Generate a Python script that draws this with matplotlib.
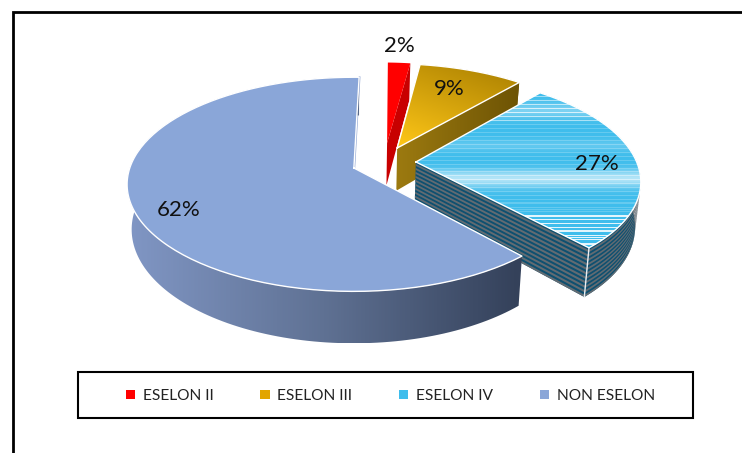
import numpy as np
import matplotlib
matplotlib.use('Agg')
import matplotlib.pyplot as plt
from matplotlib.colors import LinearSegmentedColormap, to_rgb
from matplotlib.patches import Patch, Polygon, Rectangle

categories = ['ESELON II', 'ESELON III', 'ESELON IV', 'NON ESELON']
shares = [2, 9, 27, 62]
label_x = [399, 449, 597, 179]
label_y = [46, 89, 164, 210]

# pulled-out slices: offset of the apex on the pie plane, and radius of each slice
offset_u = [0.148, 0.193, 0.273, -0.005]
offset_v = [0.247, 0.196, 0.058, 0.0]
radius = [0.94, 0.975, 0.99, 0.996]
legend_colors = ['#ff0000', '#e2a500', '#3fbdec', '#8aa6d8']

# perspective of the pie on the canvas (pixels)
CX, CY = 355, 168
RX, RY = 225, 105
PERSP = 0.153
DEPTH = 44
START = 1.5

plt.rcParams['font.family'] = ['Lato', 'DejaVu Sans']

fig = plt.figure(figsize=(7.42, 4.53), dpi=100)
ax = fig.add_axes([0, 0, 1, 1])
ax.set_xlim(0, 742)
ax.set_ylim(453, 0)
ax.set_autoscale_on(False)
ax.axis('off')


def project(u, v, h=0.0):
    # h is 0 on the top face and 1 on the bottom face
    w = 1 + PERSP * v
    s = 1 - 0.02 * h
    return CX + s * RX * u / w, CY - RY * v / w + h * DEPTH / w


def poly(x, y, z, **kw):
    p = Polygon(np.column_stack([x, y]), closed=True, zorder=z, **kw)
    ax.add_patch(p)
    return p


def ramp(x, y, z, colors, direction=(1, 0)):
    # gradient fill clipped to the polygon
    clip = poly(x, y, z, facecolor='none', edgecolor='none')
    x0, x1, y0, y1 = min(x), max(x), min(y), max(y)
    xx, yy = np.meshgrid(np.linspace(0, 1, 64), np.linspace(0, 1, 64))
    t = xx * direction[0] + yy * direction[1]
    t = (t - t.min()) / (t.max() - t.min())
    cmap = LinearSegmentedColormap.from_list('fill', colors)
    im = ax.imshow(t, cmap=cmap, extent=(x0, x1, y1, y0), origin='upper',
                   aspect='auto', zorder=z, interpolation='bilinear')
    im.set_clip_path(clip)


def side_face(u, v, h0=0.0, h1=1.0):
    x0, y0 = project(u, v, h0)
    x1, y1 = project(u, v, h1)
    return np.r_[x0, x1[::-1]], np.r_[y0, y1[::-1]]


def striped_side(u, v, z, n=11):
    # teal wall with grey bands running along it
    x, y = side_face(u, v)
    poly(x, y, z, facecolor='#0e5070', edgecolor='none')
    for i in range(n):
        x, y = side_face(u, v, (i + 0.5) / n, (i + 1) / n)
        poly(x, y, z, facecolor='#626b72', edgecolor='none')


def blue_texture(y0, y1):
    rows = np.arange(int(y0), int(y1) + 1)
    base = np.array(to_rgb('#3fbdec'))
    pale = (0.6 * np.exp(-((rows - 179) / 9.0) ** 2)
            + 0.32 * np.exp(-((rows - 110) / 8.0) ** 2)
            + 0.18 * np.exp(-((rows - 145) / 6.0) ** 2))
    fine = np.where(rows < 122, 0.5, np.where(rows > 212, 0.85, 0.2))
    fine = fine * ((rows % 4 == 0) | ((rows % 7 == 0) & (rows > 190)))
    mix = np.clip(pale + fine, 0, 1)[:, None]
    return (base * (1 - mix) + mix)[:, None, :], rows


angles = START + np.r_[0, np.cumsum(shares)] * 3.6

for i in range(len(shares)):
    t = np.radians(np.linspace(angles[i], angles[i + 1], 160))
    arc_u = offset_u[i] + radius[i] * np.sin(t)
    arc_v = offset_v[i] + radius[i] * np.cos(t)
    end_u = np.array([offset_u[i], arc_u[-1]])
    end_v = np.array([offset_v[i], arc_v[-1]])
    top_u = np.r_[offset_u[i], arc_u]
    top_v = np.r_[offset_v[i], arc_v]
    z = 2 + 2 * i
    tx, ty = project(top_u, top_v)

    if i == 0:
        x, y = side_face(end_u, end_v)
        poly(x, y, z, facecolor='#c80000', edgecolor='none')
        poly(tx, ty, z + 1, facecolor='#ff0000', edgecolor='none')
    elif i == 1:
        x, y = side_face(arc_u, arc_v)
        ramp(x, y, z, ['#7a5c08', '#6a5005'])
        x, y = side_face(end_u, end_v)
        ramp(x, y, z, ['#9c7a10', '#6e5404'])
        ramp(tx, ty, z + 1, ['#ffc718', '#a87e00'], direction=(0.55, -1))
    elif i == 2:
        striped_side(arc_u, arc_v, z)
        striped_side(end_u, end_v, z)
        img, rows = blue_texture(ty.min(), ty.max())
        clip = poly(tx, ty, z + 1, facecolor='none', edgecolor='none')
        im = ax.imshow(img, extent=(tx.min(), tx.max(), rows[-1], rows[0]),
                       origin='upper', aspect='auto', zorder=z + 1,
                       interpolation='nearest')
        im.set_clip_path(clip)
        cx, cy = side_face(end_u[1:], end_v[1:])
        ax.plot(cx, cy, color='#e8eef2', lw=1, zorder=z + 1)
    else:
        # thin cut face left of the gap, then the outer wall
        sx, sy = project(np.array([offset_u[i], arc_u[-1]]),
                         np.array([offset_v[i], arc_v[-1]]))
        ax.plot(sx + 0.4, sy, color='#93a8d2', lw=1.3, zorder=z)
        x, y = side_face(arc_u, arc_v)
        ramp(x, y, z, ['#8096c4', '#5f7193', '#34415a'])
        poly(tx, ty, z + 1, facecolor='#8aa6d8', edgecolor='none')

    if i > 0:
        ax.plot(np.r_[tx, tx[0]], np.r_[ty, ty[0]], color='white', lw=1,
                zorder=z + 1, solid_joinstyle='round')

    ax.text(label_x[i], label_y[i], f'{shares[i]}%', fontsize=16,
            color='#111111', ha='center', va='center', zorder=20)

# outer frame runs off the bottom and right of the canvas
ax.plot([13, 13, 742], [453, 12, 12], color='black', lw=2, zorder=1,
        solid_joinstyle='miter')

ax.add_patch(Rectangle((78, 372), 615, 46, facecolor='white',
                       edgecolor='black', lw=1.5, zorder=21))
handles = [Patch(facecolor=c, edgecolor='none') for c in legend_colors]
leg = ax.legend(handles, categories, ncol=4, frameon=False, fontsize=11.2,
                loc='center', bbox_to_anchor=(390.5 / 742, 1 - 396 / 453),
                handlelength=0.6, handleheight=0.6, handletextpad=0.5,
                columnspacing=3.0, labelcolor='#222222')
leg.set_zorder(22)

fig.savefig('out.png', dpi=100)
